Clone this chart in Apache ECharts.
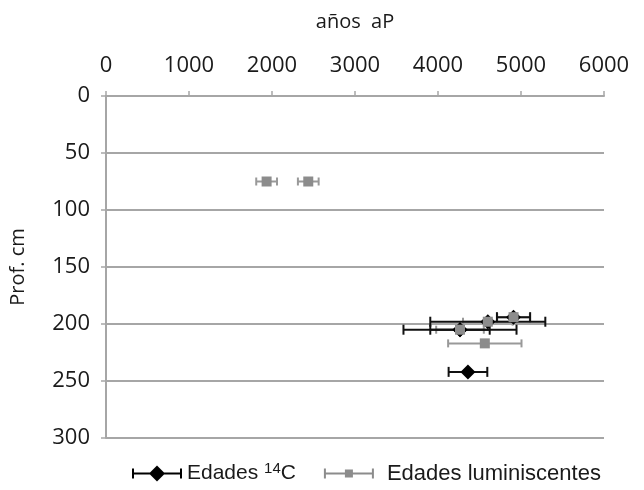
<!DOCTYPE html>
<html>
<head>
<meta charset="utf-8">
<script src="https://cdn.jsdelivr.net/npm/echarts@6/dist/echarts.min.js"></script>
<style>
  html, body { margin: 0; padding: 0; background: #fff; }
  #main { width: 644px; height: 490px; }
</style>
</head>
<body>
<div id="main"></div>
<script>
// edades 14C
const c14Age = [4265, 4265, 4600, 4910, 4361];
const c14Depth = [205, 205, 198, 194, 242];
const c14Err = [681, 358, 693, 200, 233];
// edades luminiscentes
const lumAge = [1935, 2437, 4265, 4600, 4910, 4564];
const lumDepth = [75, 75, 205, 198, 194, 217];
const lumErr = [125, 125, 287, 299, 197, 442];

const xTicks = [0, 6000, 1000];
const yTicks = [0, 300, 50];

const axisFont = 'Open Sans';
const textColor = '#1a1a1a';
const gridColor = '#a6a6a6';

function errorBars(color, capH) {
  return function (params, api) {
    const x = api.value(0), y = api.value(1), e = api.value(2);
    const a = api.coord([x - e, y]);
    const b = api.coord([x + e, y]);
    const st = { stroke: color, lineWidth: 2 };
    return {
      type: 'group',
      children: [
        { type: 'line', shape: { x1: a[0], y1: a[1], x2: b[0], y2: b[1] }, style: st },
        { type: 'line', shape: { x1: a[0], y1: a[1] - capH, x2: a[0], y2: a[1] + capH }, style: st },
        { type: 'line', shape: { x1: b[0], y1: b[1] - capH, x2: b[0], y2: b[1] + capH }, style: st }
      ]
    };
  };
}

const diamondIcon = 'path://M0,3h2v10h-2z M0,7h50v2h-50z M48,3h2v10h-2z M25,0L33,8L25,16L17,8z';
const squareIcon = 'path://M0,3h2v10h-2z M0,7h50v2h-50z M48,3h2v10h-2z M21,4h8v8h-8z';

let myChart = echarts.init(document.getElementById('main'));

myChart.setOption({
  backgroundColor: '#FFFFFF',
  animation: false,
  grid: { left: 102, right: 40, top: 96, bottom: 52 },
  legend: {
    top: 456,
    left: 127,
    itemWidth: 50,
    itemHeight: 16,
    itemGap: 28,
    data: [
      { name: 'Edades 14C', icon: diamondIcon, itemStyle: { color: '#000' } },
      { name: 'Edades luminiscentes', icon: squareIcon, itemStyle: { color: '#8c8c8c' } }
    ],
    formatter: function (name) {
      if (name === 'Edades 14C') return '{t|Edades }{s|14}{t|C}';
      return '{p|' + name + '}';
    },
    textStyle: {
      color: textColor,
      rich: {
        t: { fontFamily: 'Liberation Sans', fontSize: 21, color: textColor },
        p: { fontFamily: 'Liberation Sans', fontSize: 22, color: textColor, padding: [0, 0, 0, 8] },
        s: { fontFamily: 'Liberation Sans', fontSize: 15, color: textColor, padding: [0, 0, 10, 0] }
      }
    }
  },
  xAxis: {
    type: 'value',
    position: 'top',
    min: xTicks[0], max: xTicks[1], interval: xTicks[2],
    name: 'años  aP',
    nameLocation: 'middle',
    nameGap: 64,
    nameTextStyle: { fontFamily: axisFont, fontSize: 20, color: textColor },
    axisLine: { show: true, lineStyle: { color: gridColor, width: 2 } },
    axisTick: { show: true, length: 5, lineStyle: { color: gridColor, width: 1.5 } },
    axisLabel: { fontFamily: axisFont, fontSize: 22, color: textColor, margin: 19, formatter: v => String(v) },
    splitLine: { show: false }
  },
  yAxis: {
    type: 'value',
    inverse: true,
    min: yTicks[0], max: yTicks[1], interval: yTicks[2],
    name: 'Prof. cm',
    nameLocation: 'middle',
    nameGap: 78,
    nameTextStyle: { fontFamily: axisFont, fontSize: 20, color: textColor },
    axisLine: { show: true, lineStyle: { color: gridColor, width: 2 } },
    axisTick: { show: true, length: 5, lineStyle: { color: gridColor, width: 1.5 } },
    axisLabel: { fontFamily: axisFont, fontSize: 22, color: textColor, margin: 16, formatter: v => String(v) },
    splitLine: { show: true, lineStyle: { color: gridColor, width: 2 } }
  },
  series: [
    {
      name: 'Edades luminiscentes',
      type: 'custom',
      renderItem: errorBars('#999999', 4),
      data: lumAge.map((v, i) => [v, lumDepth[i], lumErr[i]]),
      encode: { x: 0, y: 1 },
      z: 1
    },
    {
      name: 'Edades 14C',
      type: 'custom',
      renderItem: errorBars('#111111', 5),
      data: c14Age.map((v, i) => [v, c14Depth[i], c14Err[i]]),
      encode: { x: 0, y: 1 },
      z: 2
    },
    {
      name: 'Edades 14C',
      type: 'scatter',
      symbol: 'diamond',
      symbolSize: [15, 15],
      itemStyle: { color: '#000', opacity: 1 },
      data: c14Age.map((v, i) => [v, c14Depth[i]]),
      z: 3
    },
    {
      name: 'Edades luminiscentes',
      type: 'scatter',
      symbol: 'rect',
      symbolSize: [10, 10],
      itemStyle: { color: '#8c8c8c', opacity: 1 },
      data: lumAge.map((v, i) => [v, lumDepth[i]]),
      z: 4
    }
  ]
});
</script>
</body>
</html>
